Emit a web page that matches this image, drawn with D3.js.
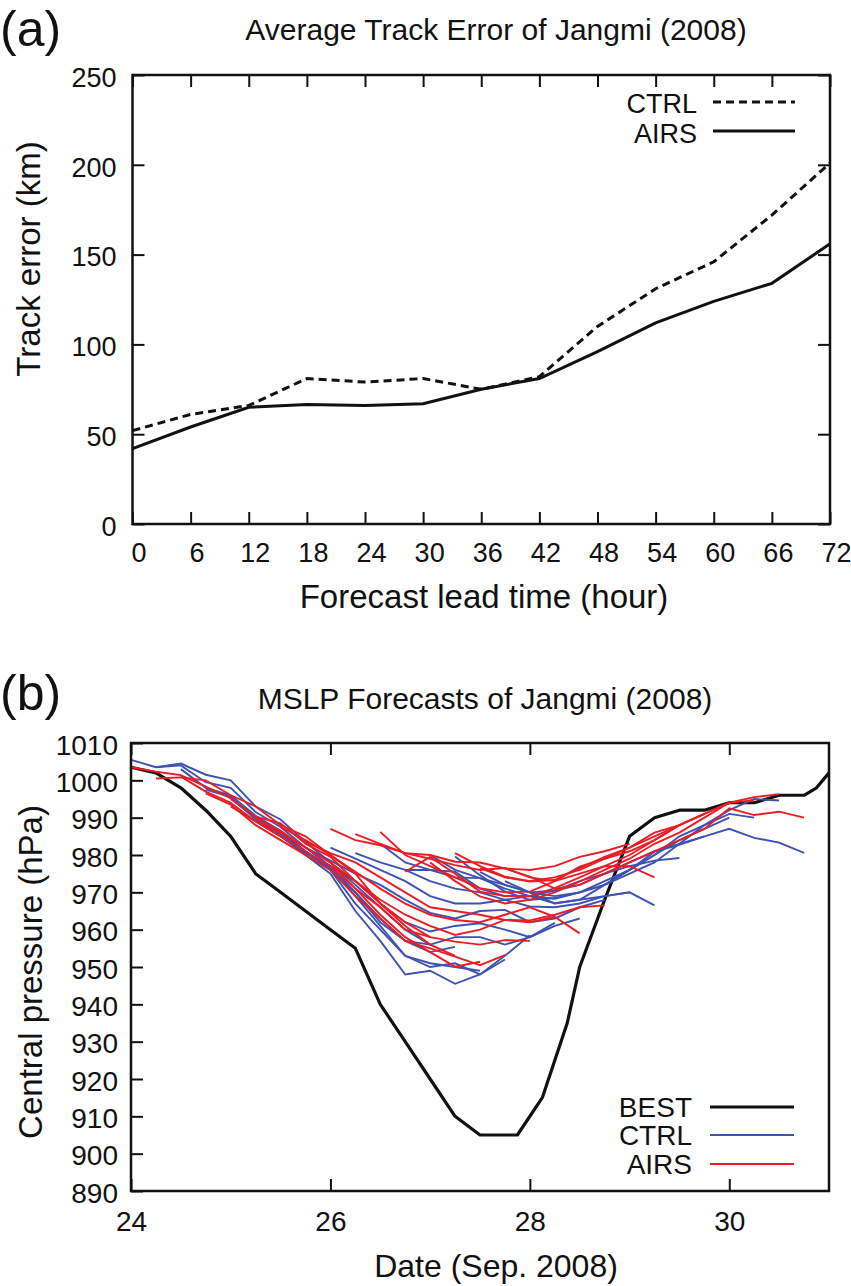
<!DOCTYPE html>
<html>
<head>
<meta charset="utf-8">
<script src="https://cdn.jsdelivr.net/npm/d3@7"></script>
<style>
  body { margin: 0; background: #fff; }
  svg text { font-family: "Liberation Sans", Arial, Helvetica, sans-serif; fill: #111; }
</style>
</head>
<body>
<svg id="fig" width="851" height="1286"></svg>
<script>
"use strict";

// ---- panel (a) data: average track error (km) vs lead time
var leadHours = [0, 6, 12, 18, 24, 30, 36, 42, 48, 54, 60, 66, 72];
var ctrlError = [52, 61, 66, 81, 79, 81, 75, 82, 110, 131, 146, 172, 201];
var airsError = [42, 54, 65, 66.5, 66, 67, 75, 81, 96, 112, 124, 134, 156];
var errorTicks = [0, 50, 100, 150, 200, 250];

// ---- panel (b) data: MSLP (hPa), best track and 72 h forecasts
var bestDays = [24, 24.25, 24.5, 24.75, 25, 25.25, 25.5, 25.75, 26, 26.25, 26.5, 26.75,
    27, 27.25, 27.5, 27.75, 27.875, 28.125, 28.375, 28.5, 28.75, 29, 29.25, 29.5,
    29.75, 30, 30.25, 30.5, 30.75, 30.875, 31];
var bestMslp = [1003.5, 1002, 998, 992, 985, 975, 970, 965, 960, 955, 940, 930,
    920, 910, 905, 905, 905, 915, 935, 950, 968, 985, 990, 992,
    992, 994, 994, 996, 996, 998, 1002];

var initDays = [24, 24.25, 24.5, 24.75, 25, 25.25, 25.5, 25.75,
    26, 26.25, 26.5, 26.75, 27, 27.25, 27.5, 27.75];

var ctrlMslp = [
    [1005.5, 1003.5, 1004.5, 1001.5, 1000, 993, 989.5, 983.5, 978, 972, 966, 960, 956],
    [1003.5, 1004, 999.5, 998, 991.5, 987.5, 982, 977, 970, 963, 957, 954, 955.4],
    [1003, 998, 996, 990.5, 986.5, 981, 976, 967, 960, 953, 951, 950, 949],
    [997.5, 995.5, 989.5, 985.5, 980, 975, 965, 957, 948, 949, 945.5, 948, 952],
    [995, 990, 986, 981, 976.5, 969, 961, 953, 950, 951, 948, 953, 958.5],
    [989, 985, 980, 976, 970, 962, 957, 956, 958, 958, 956, 958, 961.8],
    [986, 980.5, 977, 973, 967, 962, 959.5, 961, 961.7, 960, 958, 961, 963],
    [982, 978.5, 975, 972, 968, 964.5, 963, 965, 965.3, 962, 963, 966, 968],
    [982, 979, 976, 973, 969, 967, 967, 968, 966.2, 966, 967, 969, 970],
    [980.5, 978, 976, 973, 971, 970, 968, 969, 967.1, 968, 969, 970, 966.5],
    [983, 978, 976, 974, 973.8, 972, 970, 970.5, 972, 975, 977, 978.5, 979.2],
    [976, 976, 975.5, 971, 969, 969, 970.5, 973, 975, 978, 981, 983, 985],
    [980, 976, 973.8, 971, 969, 968.3, 970, 973, 976, 980, 984, 987, 990],
    [979.6, 974.6, 970.2, 968, 968.5, 970, 972, 976, 980, 985, 988, 991, 990],
    [975.5, 972, 970, 969, 970, 972, 975, 978, 983, 988, 992, 995, 994.6],
    [973, 970, 967, 968, 972, 976, 980.9, 982.7, 985, 987, 984.6, 983.3, 980.6]
];

var airsMslp = [
    [1003.5, 1002.3, 1001.4, 998.3, 995.2, 990.3, 988.5, 983, 979.5, 973, 967, 962, 958],
    [1000.5, 1000.8, 1000, 996, 993, 988, 985, 980, 975, 967, 961, 956, 953],
    [1001, 997, 994, 989, 986, 982, 978, 971, 964, 958, 954, 950.1, 951.4],
    [996.5, 993.5, 988, 984, 980, 976, 969, 963, 957, 955, 952.8, 950.5, 953.2],
    [993, 989, 985, 981, 977, 971, 966, 960, 958, 956.8, 956, 957.2, 957],
    [990, 986.5, 982, 978, 973, 968, 964, 961, 958.6, 960, 962.6, 962, 963.4],
    [987.5, 984, 980, 975.5, 971, 967, 964, 962.6, 962, 964, 966, 963.4, 959],
    [983.5, 980.5, 978, 974, 970, 966, 965, 964, 962.6, 962.5, 964, 966, 966.5],
    [987, 984, 982.6, 980.5, 980, 978.2, 978, 976.4, 976, 977, 979.5, 981, 983],
    [985.6, 983, 980.5, 979, 977.3, 976, 976.5, 974, 973, 975, 977, 977, 974],
    [986.2, 980, 977, 974, 971.1, 970, 970.2, 973, 976.9, 979, 982, 986, 988],
    [975.5, 979.5, 975, 970.2, 969, 969, 971.1, 974, 977, 980, 984, 988, 991],
    [978, 973, 968.9, 967, 968, 970, 972.9, 976, 979, 983, 986, 990, 994],
    [980.5, 977, 974.2, 973, 974, 976, 979, 981, 984, 988, 991, 994, 994.7],
    [976.5, 974, 972.9, 973.3, 976.5, 979.5, 982, 985, 988, 991, 994, 995.5, 996.3],
    [976.4, 974.2, 971, 972, 975, 978, 981, 984, 987, 992.5, 990.7, 991.6, 990]
];
var dateTicks = [24, 26, 28, 30];
var mslpTicks = [890, 900, 910, 920, 930, 940, 950, 960, 970, 980, 990, 1000, 1010];

var svg = d3.select("#fig");
var fmtInt = d3.format("d");

function styleAxis(g, size) {
    g.select(".domain").remove();
    g.attr("font-size", size).attr("font-family", null);
    g.selectAll(".tick line").attr("stroke", "#111").attr("stroke-width", 2);
}

// ================= panel (a) =================
var xa = d3.scaleLinear().domain([0, 72]).range([132.5, 830]);
var ya = d3.scaleLinear().domain([0, 250]).range([524, 75]);

svg.append("text").attr("x", 0).attr("y", 46)
    .attr("font-size", 50).text("(a)");
svg.append("text").attr("x", 496).attr("y", 40).attr("text-anchor", "middle")
    .attr("font-size", 30).text("Average Track Error of Jangmi (2008)");

svg.append("g").attr("transform", "translate(0,524)")
    .call(d3.axisBottom(xa).tickValues(leadHours).tickSize(-12).tickPadding(19))
    .call(styleAxis, 27)
    .selectAll("text").attr("dx", 6);
svg.append("g").attr("transform", "translate(0,75)")
    .call(d3.axisTop(xa).tickValues(leadHours).tickSize(-12).tickFormat(""))
    .call(styleAxis, 27);
svg.append("g").attr("transform", "translate(132.5,0)")
    .call(d3.axisLeft(ya).tickValues(errorTicks).tickSize(-12).tickPadding(16))
    .call(styleAxis, 27)
    .selectAll("text").attr("dy", "0.42em");
svg.append("g").attr("transform", "translate(830,0)")
    .call(d3.axisRight(ya).tickValues(errorTicks).tickSize(-12).tickFormat(""))
    .call(styleAxis, 27);

svg.append("rect").attr("x", 132.5).attr("y", 75).attr("width", 830 - 132.5).attr("height", 524 - 75)
    .attr("fill", "none").attr("stroke", "#111").attr("stroke-width", 2.5);

var lineA = d3.line().x(function (d, i) { return xa(leadHours[i]); }).y(function (d) { return ya(d); });
svg.append("path").datum(ctrlError).attr("d", lineA)
    .attr("fill", "none").attr("stroke", "#111").attr("stroke-width", 3).attr("stroke-dasharray", "8,5");
svg.append("path").datum(airsError).attr("d", lineA)
    .attr("fill", "none").attr("stroke", "#111").attr("stroke-width", 3);

// legend (a)
svg.append("text").attr("x", 697).attr("y", 113).attr("text-anchor", "end").attr("font-size", 27).text("CTRL");
svg.append("line").attr("x1", 713).attr("x2", 795).attr("y1", 102).attr("y2", 102)
    .attr("stroke", "#111").attr("stroke-width", 3).attr("stroke-dasharray", "8,5");
svg.append("text").attr("x", 697).attr("y", 143).attr("text-anchor", "end").attr("font-size", 27).text("AIRS");
svg.append("line").attr("x1", 713).attr("x2", 795).attr("y1", 131).attr("y2", 131)
    .attr("stroke", "#111").attr("stroke-width", 3);

svg.append("text").attr("x", 484).attr("y", 608).attr("text-anchor", "middle")
    .attr("font-size", 33).text("Forecast lead time (hour)");
svg.append("text").attr("transform", "translate(40,259) rotate(-90)").attr("text-anchor", "middle")
    .attr("font-size", 33).text("Track error (km)");

// ================= panel (b) =================
var xb = d3.scaleLinear().domain([24, 31]).range([131, 829]);
var yb = d3.scaleLinear().domain([890, 1010]).range([1191, 743]);

svg.append("text").attr("x", 0).attr("y", 710)
    .attr("font-size", 50).text("(b)");
svg.append("text").attr("x", 485).attr("y", 709).attr("text-anchor", "middle")
    .attr("font-size", 30).text("MSLP Forecasts of Jangmi (2008)");

svg.append("g").attr("transform", "translate(0,1191)")
    .call(d3.axisBottom(xb).tickValues(dateTicks).tickFormat(fmtInt).tickSize(-12).tickPadding(20))
    .call(styleAxis, 28);
svg.append("g").attr("transform", "translate(0,743)")
    .call(d3.axisTop(xb).tickValues(dateTicks).tickSize(-12).tickFormat(""))
    .call(styleAxis, 28);
svg.append("g").attr("transform", "translate(131,0)")
    .call(d3.axisLeft(yb).tickValues(mslpTicks).tickFormat(fmtInt).tickSize(-12).tickPadding(13))
    .call(styleAxis, 28)
    .selectAll("text").attr("dy", "0.4em");

var lineB = d3.line().x(function (d) { return xb(d[0]); }).y(function (d) { return yb(d[1]); });

svg.append("path").datum(bestDays.map(function (t, i) { return [t, bestMslp[i]]; }))
    .attr("d", lineB).attr("fill", "none").attr("stroke", "#111").attr("stroke-width", 3.2)
    .attr("stroke-linejoin", "round");

function forecastPoints(vals, i) {
    return vals.map(function (p, k) { return [initDays[i] + leadHours[k] / 24, p]; });
}
svg.append("g").selectAll("path").data(ctrlMslp).join("path")
    .attr("d", function (d, i) { return lineB(forecastPoints(d, i)); })
    .attr("fill", "none").attr("stroke", "#3d52b2").attr("stroke-width", 1.9);
svg.append("g").selectAll("path").data(airsMslp).join("path")
    .attr("d", function (d, i) { return lineB(forecastPoints(d, i)); })
    .attr("fill", "none").attr("stroke", "#ec1c24").attr("stroke-width", 1.9);

svg.append("rect").attr("x", 131).attr("y", 743).attr("width", 829 - 131).attr("height", 1191 - 743)
    .attr("fill", "none").attr("stroke", "#111").attr("stroke-width", 2.5);

// legend (b)
var legB = [["BEST", "#111", 3.2, 1107], ["CTRL", "#3d52b2", 1.9, 1135], ["AIRS", "#ec1c24", 1.9, 1164]];
legB.forEach(function (l) {
    svg.append("text").attr("x", 692).attr("y", l[3] + 10).attr("text-anchor", "end").attr("font-size", 28).text(l[0]);
    svg.append("line").attr("x1", 710).attr("x2", 794).attr("y1", l[3]).attr("y2", l[3])
        .attr("stroke", l[1]).attr("stroke-width", l[2]);
});

svg.append("text").attr("x", 496).attr("y", 1277).attr("text-anchor", "middle")
    .attr("font-size", 32).text("Date (Sep. 2008)");
svg.append("text").attr("transform", "translate(42,972) rotate(-90)").attr("text-anchor", "middle")
    .attr("font-size", 33).text("Central pressure (hPa)");
</script>
</body>
</html>
